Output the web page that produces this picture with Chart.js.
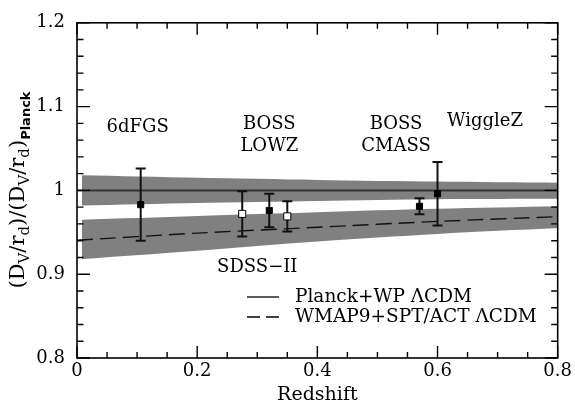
<!DOCTYPE html>
<html>
<head>
<meta charset="utf-8">
<script src="https://cdn.jsdelivr.net/npm/chart.js@4.4.0/dist/chart.umd.min.js"></script>
<style>
  body { margin: 0; background: #fff; }
  canvas { display: block; }
</style>
</head>
<body>
<canvas id="baoChart" width="575" height="412"></canvas>
<script>
// BAO measurements relative to Planck
const redshift = [0.106, 0.275, 0.32, 0.35, 0.57, 0.60];
const ratio = [0.983, 0.972, 0.976, 0.969, 0.981, 0.996];
const ratioErr = [0.043, 0.027, 0.020, 0.018, 0.0095, 0.038];
const openMarker = [false, true, false, true, false, false];

// model bands
const bandZ = [0.008, 0.2, 0.4, 0.6, 0.8];
const planckUpper = [1.018, 1.015, 1.0125, 1.0105, 1.009];
const planckLower = [0.982, 0.985, 0.9875, 0.9895, 0.990];
const wmapUpper = [0.965, 0.9695, 0.974, 0.978, 0.981];
const wmapLower = [0.918, 0.928, 0.939, 0.948, 0.955];

// model lines
const lineZ = [0, 0.2, 0.4, 0.6, 0.8];
const planckLine = [1, 1, 1, 1, 1];
const wmapLine = [0.9405, 0.949, 0.956, 0.963, 0.9686];

// survey labels
const surveyLabels = [
  { text: '6dFGS', x: 0.101, y: 1.0755 },
  { text: 'BOSS', x: 0.320, y: 1.0784 },
  { text: 'LOWZ', x: 0.320, y: 1.0526 },
  { text: 'BOSS', x: 0.531, y: 1.0784 },
  { text: 'CMASS', x: 0.531, y: 1.0526 },
  { text: 'WiggleZ', x: 0.679, y: 1.0822 },
  { text: 'SDSS\u2212II', x: 0.300, y: 0.9079 }
];

const xTicks = [0, 0.2, 0.4, 0.6, 0.8];
const yTicks = [0.8, 0.9, 1.0, 1.1, 1.2];

const SERIF = "'DejaVu Serif', serif";
Chart.defaults.font.family = SERIF;
Chart.defaults.color = '#000';

const zip = (xs, ys) => xs.map((x, i) => ({ x: x, y: ys[i] }));

// error bars go under the markers
const errorBars = {
  id: 'errorBars',
  beforeDatasetDraw(chart, args) {
    if (args.index !== 0) return;
    const { ctx, scales: { x, y } } = chart;
    ctx.save();
    ctx.strokeStyle = '#111';
    ctx.lineWidth = 2;
    redshift.forEach((z, i) => {
      const px = x.getPixelForValue(z);
      const top = y.getPixelForValue(ratio[i] + ratioErr[i]);
      const bot = y.getPixelForValue(ratio[i] - ratioErr[i]);
      ctx.beginPath();
      ctx.moveTo(px, top); ctx.lineTo(px, bot);
      ctx.moveTo(px - 5, top); ctx.lineTo(px + 5, top);
      ctx.moveTo(px - 5, bot); ctx.lineTo(px + 5, bot);
      ctx.stroke();
    });
    ctx.restore();
  }
};

// frame, inward ticks, labels, legend and y title
const decorations = {
  id: 'decorations',
  afterDraw(chart) {
    const { ctx, chartArea: a, scales: { x, y } } = chart;
    ctx.save();
    ctx.strokeStyle = '#000';
    ctx.lineWidth = 1.6;
    ctx.strokeRect(a.left, a.top, a.right - a.left, a.bottom - a.top);

    ctx.lineWidth = 1.4;
    ctx.beginPath();
    for (let i = 0; i <= 16; i++) {
      const v = i * 0.05;
      const len = i % 4 === 0 ? 12 : 6;
      const px = x.getPixelForValue(v);
      ctx.moveTo(px, a.bottom); ctx.lineTo(px, a.bottom - len);
      ctx.moveTo(px, a.top); ctx.lineTo(px, a.top + len);
    }
    for (let i = 0; i <= 20; i++) {
      const v = 0.8 + i * 0.02;
      const len = i % 5 === 0 ? 13 : 6.5;
      const py = y.getPixelForValue(v);
      ctx.moveTo(a.left, py); ctx.lineTo(a.left + len, py);
      ctx.moveTo(a.right, py); ctx.lineTo(a.right - len, py);
    }
    ctx.stroke();

    // survey names
    ctx.fillStyle = '#000';
    ctx.font = '18px ' + SERIF;
    ctx.textAlign = 'center';
    ctx.textBaseline = 'middle';
    surveyLabels.forEach(l => {
      ctx.fillText(l.text, x.getPixelForValue(l.x), y.getPixelForValue(l.y));
    });

    // legend
    ctx.textAlign = 'left';
    ctx.lineWidth = 1.3;
    ctx.beginPath();
    ctx.moveTo(247, 297); ctx.lineTo(279, 297);
    ctx.stroke();
    ctx.setLineDash([13, 6]);
    ctx.beginPath();
    ctx.moveTo(247, 317); ctx.lineTo(279, 317);
    ctx.stroke();
    ctx.setLineDash([]);
    ctx.font = '18.5px ' + SERIF;
    ctx.fillText('Planck+WP \u039BCDM', 295, 297);
    ctx.fillText('WMAP9+SPT/ACT \u039BCDM', 295, 317);

    // y axis title with subscripts
    const parts = [
      ['(D', 0], ['V', 1], ['/r', 0], ['d', 1], [')/(D', 0], ['V', 1],
      ['/r', 0], ['d', 1], [')', 0], ['Planck', 2]
    ];
    const fonts = ['21px ' + SERIF, '15px ' + SERIF, "bold 13px 'DejaVu Sans', sans-serif"];
    const shift = [0, 5, 6];
    ctx.translate(18, 190);
    ctx.rotate(-Math.PI / 2);
    ctx.textBaseline = 'alphabetic';
    let total = 0;
    parts.forEach(p => { ctx.font = fonts[p[1]]; total += ctx.measureText(p[0]).width; });
    let cx = -total / 2;
    parts.forEach(p => {
      ctx.font = fonts[p[1]];
      ctx.fillText(p[0], cx, 6 + shift[p[1]]);
      cx += ctx.measureText(p[0]).width;
    });
    ctx.restore();
  }
};

const tickFmt = v => String(+v.toFixed(2));

new Chart(document.getElementById('baoChart'), {
  type: 'scatter',
  data: {
    datasets: [
      {
        label: 'BAO',
        data: zip(redshift, ratio),
        pointStyle: 'rect',
        pointRadius: openMarker.map(o => (o ? 5 : 4.3)),
        pointBackgroundColor: openMarker.map(o => (o ? '#fff' : '#000')),
        pointBorderColor: '#000',
        pointBorderWidth: 1,
        showLine: false
      },
      {
        label: 'Planck+WP',
        type: 'line',
        data: zip(lineZ, planckLine),
        borderColor: '#333',
        borderWidth: 2,
        pointRadius: 0,
        fill: false
      },
      {
        label: 'WMAP9+SPT/ACT',
        type: 'line',
        data: zip(lineZ, wmapLine),
        borderColor: '#111',
        borderWidth: 1.4,
        borderDash: [16, 7],
        pointRadius: 0,
        tension: 0.3,
        fill: false
      },
      {
        label: 'planck upper',
        type: 'line',
        data: zip(bandZ, planckUpper),
        borderWidth: 0,
        pointRadius: 0,
        tension: 0.3,
        backgroundColor: '#808080',
        fill: '+1'
      },
      {
        label: 'planck lower',
        type: 'line',
        data: zip(bandZ, planckLower),
        borderWidth: 0,
        pointRadius: 0,
        tension: 0.3,
        fill: false
      },
      {
        label: 'wmap upper',
        type: 'line',
        data: zip(bandZ, wmapUpper),
        borderWidth: 0,
        pointRadius: 0,
        tension: 0.3,
        backgroundColor: '#808080',
        fill: '+1'
      },
      {
        label: 'wmap lower',
        type: 'line',
        data: zip(bandZ, wmapLower),
        borderWidth: 0,
        pointRadius: 0,
        tension: 0.3,
        fill: false
      }
    ]
  },
  options: {
    responsive: false,
    animation: false,
    layout: { padding: { top: 17, right: 16, left: 0, bottom: 0 } },
    plugins: {
      legend: { display: false },
      tooltip: { enabled: false }
    },
    scales: {
      x: {
        type: 'linear',
        min: 0,
        max: 0.8,
        afterFit: s => { s.height = 54; },
        afterBuildTicks: s => { s.ticks = xTicks.map(v => ({ value: v })); },
        grid: { display: false, drawTicks: false },
        border: { display: false },
        ticks: { font: { size: 18 }, padding: 3, maxRotation: 0, callback: tickFmt },
        title: { display: true, text: 'Redshift', font: { size: 19 }, padding: { top: 0, bottom: 6 } }
      },
      y: {
        type: 'linear',
        min: 0.8,
        max: 1.2,
        afterFit: s => { s.width = 77; },
        afterBuildTicks: s => { s.ticks = yTicks.map(v => ({ value: v })); },
        grid: { display: false, drawTicks: false },
        border: { display: false },
        ticks: { font: { size: 18 }, padding: 12, callback: tickFmt }
      }
    }
  },
  plugins: [errorBars, decorations]
});
</script>
</body>
</html>
